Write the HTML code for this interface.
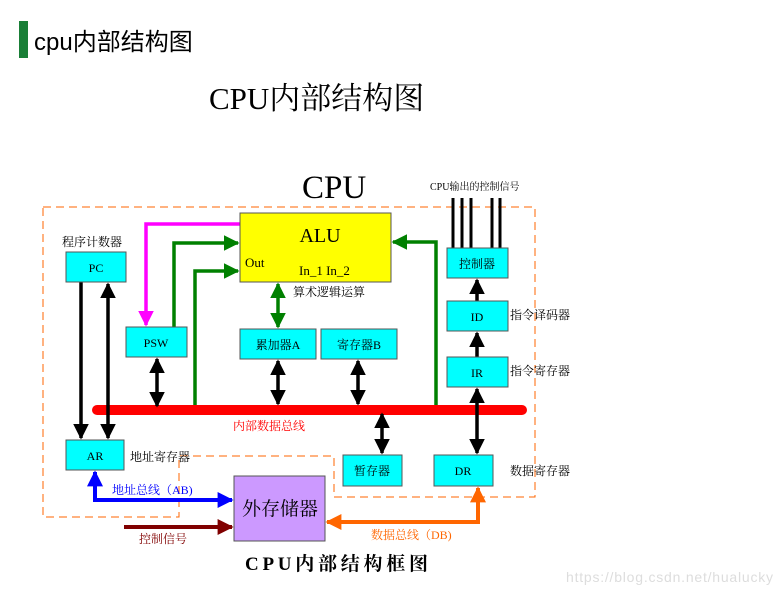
<!DOCTYPE html>
<html><head><meta charset="utf-8"><style>
body{margin:0;background:#fff;width:783px;height:593px;overflow:hidden}
svg{display:block}
.s{font-family:"Liberation Serif","Noto Serif CJK SC",serif}
.k{font-family:"Liberation Sans","Noto Sans CJK SC",sans-serif}
</style></head><body>
<svg width="783" height="593" viewBox="0 0 783 593" xmlns="http://www.w3.org/2000/svg">
<defs>
<marker id="ab" viewBox="0 0 10 10" refX="9" refY="5" markerWidth="4.5" markerHeight="4.5" orient="auto-start-reverse"><path d="M0,0L10,5L0,10z" fill="#000"/></marker>
<marker id="ag" viewBox="0 0 10 10" refX="9" refY="5" markerWidth="4.5" markerHeight="4.5" orient="auto-start-reverse"><path d="M0,0L10,5L0,10z" fill="#008000"/></marker>
<marker id="am" viewBox="0 0 10 10" refX="9" refY="5" markerWidth="4.5" markerHeight="4.5" orient="auto"><path d="M0,0L10,5L0,10z" fill="#ff00ff"/></marker>
<marker id="abl" viewBox="0 0 10 10" refX="9" refY="5" markerWidth="4" markerHeight="4" orient="auto-start-reverse"><path d="M0,0L10,5L0,10z" fill="#0000ff"/></marker>
<marker id="ar" viewBox="0 0 10 10" refX="9" refY="5" markerWidth="4.5" markerHeight="4" orient="auto"><path d="M0,0L10,5L0,10z" fill="#800000"/></marker>
<marker id="ao" viewBox="0 0 10 10" refX="9" refY="5" markerWidth="4" markerHeight="4" orient="auto-start-reverse"><path d="M0,0L10,5L0,10z" fill="#ff6600"/></marker>
</defs>
<rect x="19" y="21" width="9" height="37" fill="#1a7f37"/>
<text x="34" y="50" font-size="24" class="k">cpu内部结构图</text>
<text x="209" y="109" font-size="31" class="s">CPU内部结构图</text>
<text x="302" y="198" font-size="33" class="s">CPU</text>
<text x="430" y="190" font-size="10" class="s">CPU输出的控制信号</text>
<path d="M43,207H535V497H334V456H179V517H43Z" fill="none" stroke="#ff6600" stroke-width="1" stroke-dasharray="8,5"/>
<line x1="97" y1="410" x2="522" y2="410" stroke="#ff0000" stroke-width="10" stroke-linecap="round"/>
<text x="233" y="430" font-size="12" fill="#ff0000" class="s">内部数据总线</text>
<g stroke="#000" stroke-width="3"><line x1="453" y1="198" x2="453" y2="248"/><line x1="462" y1="198" x2="462" y2="248"/><line x1="471" y1="198" x2="471" y2="248"/><line x1="492" y1="198" x2="492" y2="248"/><line x1="500" y1="198" x2="500" y2="248"/></g>
<g stroke="#000" stroke-width="3.5" fill="none">
<line x1="81" y1="282" x2="81" y2="438" marker-end="url(#ab)"/>
<line x1="108" y1="284" x2="108" y2="438" marker-start="url(#ab)" marker-end="url(#ab)"/>
<line x1="157" y1="359" x2="157" y2="406" marker-start="url(#ab)" marker-end="url(#ab)"/>
<line x1="278" y1="361" x2="278" y2="404" marker-start="url(#ab)" marker-end="url(#ab)"/>
<line x1="358" y1="361" x2="358" y2="404" marker-start="url(#ab)" marker-end="url(#ab)"/>
<line x1="382" y1="414" x2="382" y2="453" marker-start="url(#ab)" marker-end="url(#ab)"/>
<line x1="477" y1="389" x2="477" y2="453" marker-start="url(#ab)" marker-end="url(#ab)"/>
<line x1="477" y1="357" x2="477" y2="333" marker-end="url(#ab)"/>
<line x1="477" y1="301" x2="477" y2="280" marker-end="url(#ab)"/>
</g>
<g stroke="#008000" stroke-width="3.5" fill="none">
<path d="M174,327V243H238" marker-end="url(#ag)"/>
<path d="M195,405V271H238" marker-end="url(#ag)"/>
<path d="M436,405V242H393" marker-end="url(#ag)"/>
<line x1="278" y1="284" x2="278" y2="327" marker-start="url(#ag)" marker-end="url(#ag)"/>
</g>
<path d="M240,224H146V325" stroke="#ff00ff" stroke-width="3.5" fill="none" marker-end="url(#am)"/>
<g stroke="#555" stroke-width="1" fill="#00ffff">
<rect x="240" y="213" width="151" height="69" fill="#ffff00"/>
<rect x="66" y="252" width="60" height="30"/>
<rect x="126" y="327" width="61" height="30"/>
<rect x="240" y="329" width="76" height="30"/>
<rect x="321" y="329" width="76" height="30"/>
<rect x="447" y="248" width="61" height="30"/>
<rect x="447" y="301" width="61" height="30"/>
<rect x="447" y="357" width="61" height="30"/>
<rect x="66" y="440" width="58" height="30"/>
<rect x="343" y="455" width="59" height="31"/>
<rect x="434" y="455" width="59" height="31"/>
<rect x="234" y="476" width="91" height="65" fill="#cc99ff"/>
</g>
<g class="s" font-size="12" text-anchor="middle">
<text x="320" y="242" font-size="20">ALU</text>
<text x="96" y="272">PC</text>
<text x="156" y="347">PSW</text>
<text x="278" y="349">累加器A</text>
<text x="359" y="349">寄存器B</text>
<text x="477" y="268">控制器</text>
<text x="477" y="321">ID</text>
<text x="477" y="377">IR</text>
<text x="95" y="460">AR</text>
<text x="372" y="475">暂存器</text>
<text x="463" y="475">DR</text>
<text x="280" y="515" font-size="19">外存储器</text>
</g>
<g class="s" font-size="12">
<text x="245" y="267" font-size="13">Out</text>
<text x="299" y="275" font-size="13">In_1 In_2</text>
<text x="293" y="296">算术逻辑运算</text>
<text x="62" y="246">程序计数器</text>
<text x="510" y="319">指令译码器</text>
<text x="510" y="375">指令寄存器</text>
<text x="130" y="461">地址寄存器</text>
<text x="510" y="475">数据寄存器</text>
<text x="112" y="494" fill="#0000ff">地址总线（AB)</text>
<text x="139" y="543" fill="#800000">控制信号</text>
<text x="371" y="539" fill="#ff6600">数据总线（DB)</text>
</g>
<path d="M95,472V500H232" stroke="#0000ff" stroke-width="4" fill="none" marker-start="url(#abl)" marker-end="url(#abl)"/>
<line x1="124" y1="527" x2="232" y2="527" stroke="#800000" stroke-width="4" marker-end="url(#ar)"/>
<path d="M327,522H478V488" stroke="#ff6600" stroke-width="4" fill="none" marker-start="url(#ao)" marker-end="url(#ao)"/>
<text x="245" y="570" font-size="19" font-weight="bold" class="s" textLength="183">CPU内部结构框图</text>
<text x="566" y="582" font-size="14" fill="#ddd" class="k" textLength="207">https://blog.csdn.net/hualucky</text>
</svg>
</body></html>
